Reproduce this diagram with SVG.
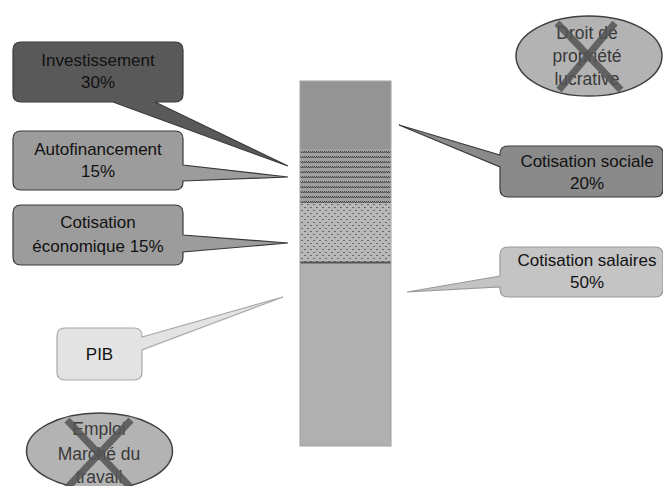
<svg xmlns="http://www.w3.org/2000/svg" width="663" height="486" viewBox="0 0 663 486">
<style>
  text { font-family: "Liberation Sans", Arial, sans-serif; font-size: 17px; text-anchor: middle; fill: #111; }
  .ell text { fill: #3a3a3a; font-size: 17.5px; }
  .ell ellipse { fill: #b3b3b3; stroke: #404040; stroke-width: 1.5; }
  .cross { stroke: #555; stroke-width: 7; opacity: 0.85; stroke-linecap: butt; }
  .dark { stroke: #3a3a3a; stroke-width: 1.2; }
</style>
<defs>
  <pattern id="hatch" width="4" height="5" patternUnits="userSpaceOnUse" x="300" y="150">
    <rect width="4" height="5" fill="#a0a0a0"/>
    <rect x="0" y="1" width="1" height="1" fill="#4a4a4a"/>
    <rect x="1" y="2" width="1" height="1" fill="#4a4a4a"/>
    <rect x="2" y="1" width="1" height="1" fill="#4a4a4a"/>
    <rect x="3" y="2" width="1" height="1" fill="#4a4a4a"/>
    <rect x="0" y="2" width="1" height="1" fill="#7a7a7a"/>
    <rect x="2" y="2" width="1" height="1" fill="#7a7a7a"/>
  </pattern>
  <pattern id="dots" width="6" height="6" patternUnits="userSpaceOnUse" x="300" y="203">
    <rect width="6" height="6" fill="#b8b8b8"/>
    <rect x="1" y="1" width="2" height="1" fill="#6a6a6a"/>
    <rect x="4" y="4" width="2" height="1" fill="#6a6a6a"/>
  </pattern>
</defs>

<g id="column">
  <rect x="300" y="81" width="91" height="365" fill="#b0b0b0" stroke="#a0a0a0" stroke-width="1"/>
  <rect x="300.5" y="81.5" width="90" height="67.5" fill="#949494"/>
  <rect x="300.5" y="149" width="90" height="54" fill="url(#hatch)"/>
  <rect x="300.5" y="203" width="90" height="59" fill="url(#dots)"/>
  <line x1="300.5" y1="262.5" x2="390.5" y2="262.5" stroke="#555" stroke-width="2"/>
</g>

<g id="connectors"></g>

<g id="investissement">
  <path class="dark" fill="#595959" d="M21,42 H175 Q183,42 183,50 V94 Q183,102 175,102 H155 L288,166 L113,102 H21 Q13,102 13,94 V50 Q13,42 21,42 Z"/>
  <text x="98" y="66">Investissement</text>
  <text x="98" y="88">30%</text>
</g>

<g id="autofinancement">
  <path class="dark" fill="#9c9c9c" d="M21,131 H175 Q183,131 183,139 V165 L288,177 L183,181 V182 Q183,190 175,190 H21 Q13,190 13,182 V139 Q13,131 21,131 Z"/>
  <text x="98" y="155">Autofinancement</text>
  <text x="98" y="177">15%</text>
</g>

<g id="cotisation-economique">
  <path class="dark" fill="#9c9c9c" d="M21,205 H175 Q183,205 183,213 V235 L288,243 L183,252 V257 Q183,265 175,265 H21 Q13,265 13,257 V213 Q13,205 21,205 Z"/>
  <text x="98" y="228">Cotisation</text>
  <text x="98" y="252">économique 15%</text>
</g>

<g id="cotisation-sociale">
  <path class="dark" fill="#8a8a8a" d="M508,146 H655 Q663,146 663,154 V189 Q663,197 655,197 H508 Q500,197 500,189 V167 L399,125 L500,155 V154 Q500,146 508,146 Z"/>
  <text x="587" y="167">Cotisation sociale</text>
  <text x="587" y="189">20%</text>
</g>

<g id="cotisation-salaires">
  <path fill="#c4c4c4" stroke="#9a9a9a" stroke-width="1.2" d="M508,247 H655 Q663,247 663,255 V289 Q663,297 655,297 H508 Q500,297 500,289 V287 L407,292 L500,276 V255 Q500,247 508,247 Z"/>
  <text x="587" y="266">Cotisation salaires</text>
  <text x="587" y="288">50%</text>
</g>

<g id="pib">
  <path fill="#e3e3e3" stroke="#a8a8a8" stroke-width="1.2" d="M65,328 H134 Q142,328 142,336 V337 L283,297 L142,350 V372 Q142,380 134,380 H65 Q57,380 57,372 V336 Q57,328 65,328 Z"/>
  <text x="99.5" y="360">PIB</text>
</g>

<g id="droit-propriete" class="ell">
  <ellipse cx="589" cy="56" rx="73" ry="40"/>
  <text x="587" y="39">Droit de</text>
  <text x="587" y="62">propriété</text>
  <text x="587" y="85">lucrative</text>
  <line class="cross" x1="557" y1="23" x2="621" y2="90"/>
  <line class="cross" x1="615" y1="23" x2="559" y2="90"/>
</g>

<g id="emploi" class="ell">
  <ellipse cx="99.5" cy="451" rx="73" ry="38"/>
  <text x="99" y="435">Emploi</text>
  <text x="99" y="460">Marché du</text>
  <text x="99" y="483">travail</text>
  <line class="cross" x1="67" y1="420" x2="131" y2="488"/>
  <line class="cross" x1="131" y1="420" x2="67" y2="488"/>
</g>
</svg>
